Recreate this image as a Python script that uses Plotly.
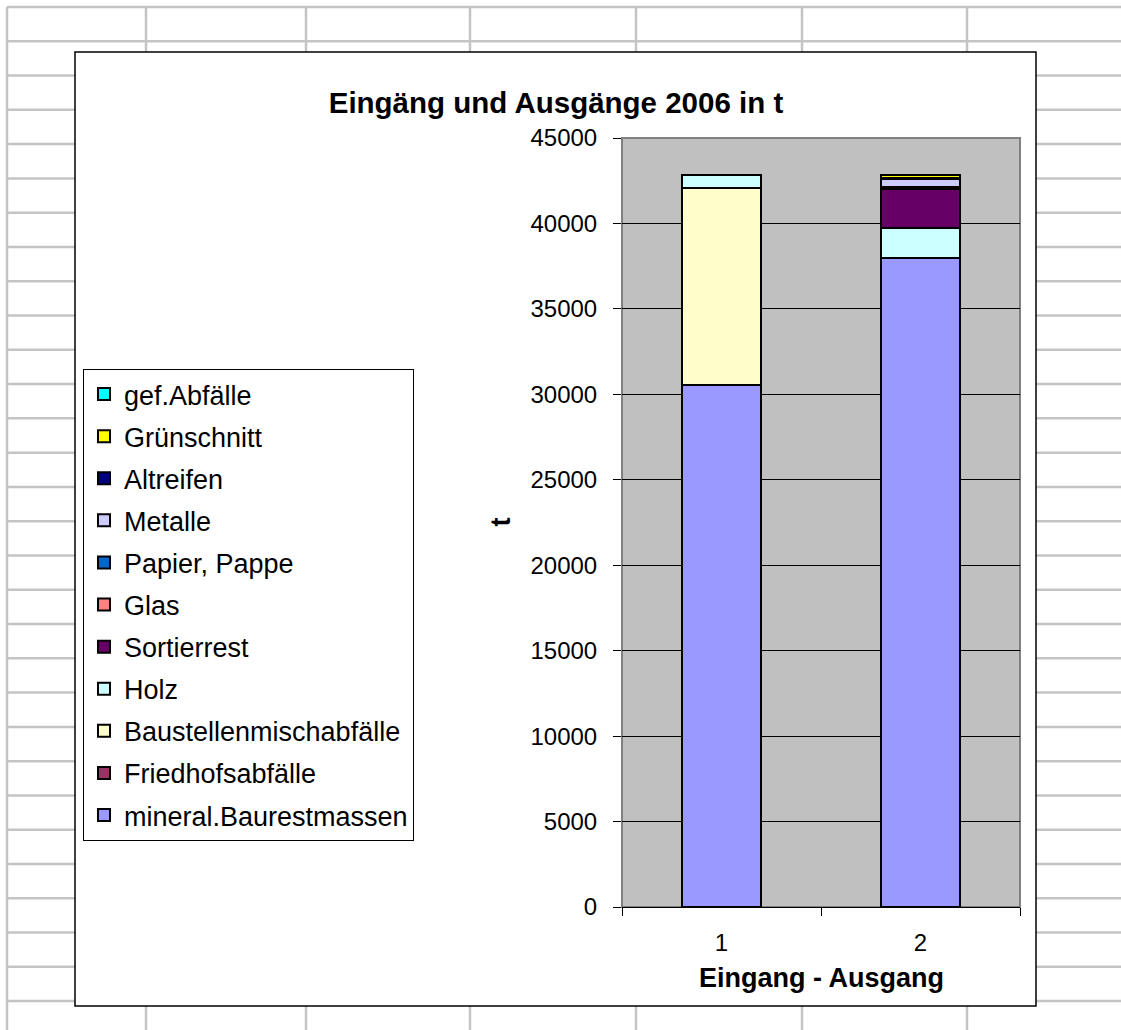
import plotly.graph_objects as go

# Stacked tonnages per category (1 = Eingang, 2 = Ausgang)
categories = ["1", "2"]

series_names = [
    "mineral.Baurestmassen",
    "Friedhofsabfälle",
    "Baustellenmischabfälle",
    "Holz",
    "Sortierrest",
    "Glas",
    "Papier, Pappe",
    "Metalle",
    "Altreifen",
    "Grünschnitt",
    "gef.Abfälle",
]

mineral_baurestmassen = [30560, 37960]
friedhofsabfaelle = [0, 0]
baustellenmischabfaelle = [11530, 0]
holz = [760, 1790]
sortierrest = [0, 2250]
glas = [0, 40]
papier_pappe = [0, 100]
metalle = [0, 450]
altreifen = [0, 60]
gruenschnitt = [0, 180]
gef_abfaelle = [0, 20]

series_values = [
    mineral_baurestmassen,
    friedhofsabfaelle,
    baustellenmischabfaelle,
    holz,
    sortierrest,
    glas,
    papier_pappe,
    metalle,
    altreifen,
    gruenschnitt,
    gef_abfaelle,
]

series_colors = [
    "#9999FF", "#993366", "#FFFFCC", "#CCFFFF", "#660066", "#FF8080",
    "#0066CC", "#CCCCFF", "#000080", "#FFFF00", "#00FFFF",
]

y_ticks = list(range(0, 45001, 5000))

FONT = "Liberation Sans, Arial, sans-serif"
W, H = 1121, 1030
PL, PR, PT, PB = 622, 1020, 138, 907  # plot area in pixels


def px_x(x):
    return (x - PL) / (PR - PL)


def px_y(y):
    return (PB - y) / (PB - PT)


fig = go.Figure()
n = len(series_names)
for i, (name, vals, col) in enumerate(zip(series_names, series_values, series_colors)):
    fig.add_trace(go.Bar(
        x=categories, y=vals, name=name, legendgroup=name,
        legendrank=n - i,  # top of the stack listed first
        marker=dict(color=col, line=dict(color="black", width=2)),
    ))

shapes = []
# worksheet cell grid behind the chart
grid_col = "#C4C4C4"
col_lines = [7, 146, 306, 470, 636, 802, 967]
row_lines = [7 + 34.28 * k for k in range(31)]
for cx in col_lines:
    shapes.append(dict(type="line", xref="paper", yref="paper", layer="below",
                       x0=px_x(cx), x1=px_x(cx), y0=px_y(7), y1=px_y(1040),
                       line=dict(color=grid_col, width=2.5)))
for ry in row_lines:
    shapes.append(dict(type="line", xref="paper", yref="paper", layer="below",
                       x0=px_x(7), x1=px_x(1130), y0=px_y(ry), y1=px_y(ry),
                       line=dict(color=grid_col, width=2.5)))
# chart area
shapes.append(dict(type="rect", xref="paper", yref="paper", layer="below",
                   x0=px_x(75), x1=px_x(1036), y0=px_y(1006), y1=px_y(52),
                   fillcolor="white", line=dict(color="black", width=1.5)))
# plot area
shapes.append(dict(type="rect", xref="paper", yref="paper", layer="below",
                   x0=0, x1=1, y0=0, y1=1,
                   fillcolor="#C0C0C0", line=dict(color="#808080", width=2)))

fig.update_layout(
    width=W, height=H,
    margin=dict(l=PL, r=W - PR, t=PT, b=H - PB, pad=0),
    paper_bgcolor="white",
    plot_bgcolor="rgba(0,0,0,0)",
    barmode="stack",
    bargap=0.6,
    font=dict(family=FONT, size=24, color="black"),
    title=dict(text="<b>Eingäng und Ausgänge 2006 in t</b>",
               xref="container", yref="container",
               x=556 / W, y=1 - 103 / H, xanchor="center", yanchor="middle",
               font=dict(family=FONT, size=29.5, color="black")),
    showlegend=True,
    legend=dict(
        x=px_x(83), y=px_y(369), xanchor="left", yanchor="top",
        traceorder="grouped", tracegroupgap=4,
        bgcolor="white", bordercolor="black", borderwidth=1,
        font=dict(family=FONT, size=27, color="black"),
    ),
    shapes=shapes,
    annotations=[
        dict(text="<b>Eingang - Ausgang</b>", xref="paper", yref="paper",
             x=0.5, y=px_y(978), xanchor="center", yanchor="middle",
             showarrow=False, font=dict(family=FONT, size=27, color="black")),
        dict(text="<b>t</b>", xref="paper", yref="paper", textangle=-90,
             x=px_x(500), y=0.5, xanchor="center", yanchor="middle",
             showarrow=False, font=dict(family=FONT, size=27, color="black")),
    ],
    hovermode=False,
)

fig.update_xaxes(
    type="category", categoryorder="array", categoryarray=categories,
    range=[-0.5, 1.5],
    showgrid=False, showline=True, linecolor="black", linewidth=1,
    ticks="outside", tickson="boundaries", ticklen=8, tickcolor="black",
    tickwidth=1, ticklabelstandoff=14,
    tickfont=dict(family=FONT, size=24, color="black"),
)
fig.update_yaxes(
    range=[0, 45000], tickvals=y_ticks, ticktext=[str(v) for v in y_ticks],
    showgrid=True, gridcolor="black", gridwidth=1,
    zeroline=False, showline=False,
    ticks="outside", ticklen=8, tickcolor="black", tickwidth=1,
    ticklabelstandoff=11,
    tickfont=dict(family=FONT, size=24, color="black"),
)

fig.write_html("out.html")
